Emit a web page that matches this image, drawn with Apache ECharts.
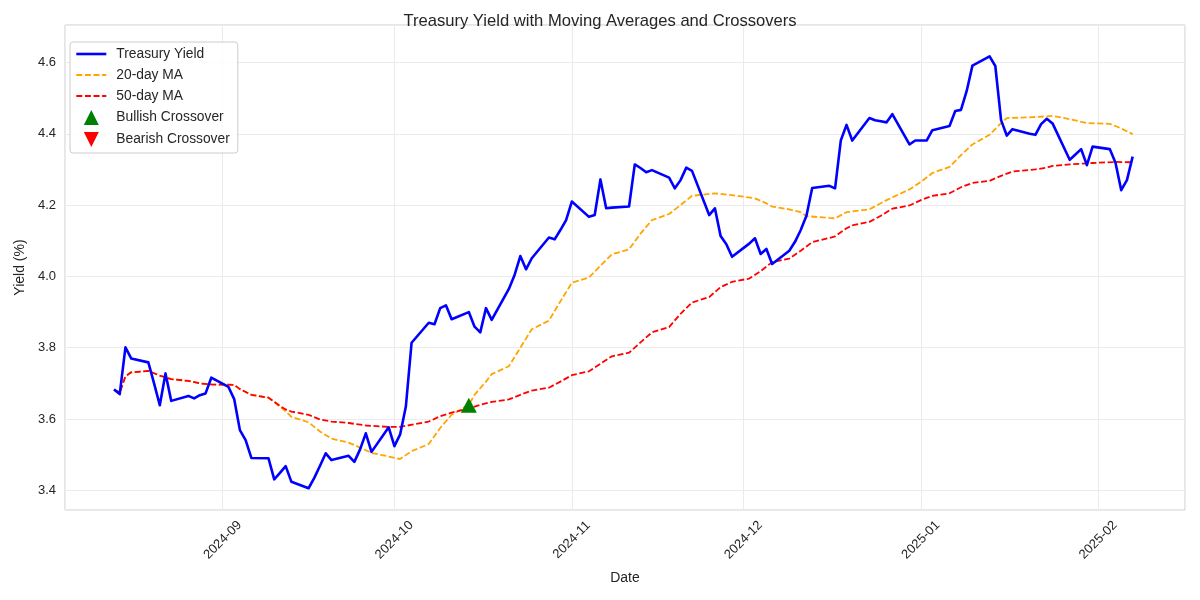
<!DOCTYPE html>
<html>
<head>
<meta charset="utf-8">
<script src="https://cdn.jsdelivr.net/npm/echarts@6/dist/echarts.min.js"></script>
<style>html,body{margin:0;padding:0;background:#fff}#chart{width:1200px;height:600px}</style>
</head>
<body>
<div id="chart"></div>
<script>
// ---------- data ----------
const yieldDates = [
"2024-08-13","2024-08-14","2024-08-15","2024-08-16","2024-08-19","2024-08-20","2024-08-21","2024-08-22","2024-08-23","2024-08-26","2024-08-27","2024-08-28","2024-08-29","2024-08-30",
"2024-09-02","2024-09-03","2024-09-04","2024-09-05","2024-09-06","2024-09-09","2024-09-10","2024-09-11","2024-09-12","2024-09-13","2024-09-16","2024-09-17","2024-09-18","2024-09-19","2024-09-20","2024-09-23","2024-09-24","2024-09-25","2024-09-26","2024-09-27","2024-09-30",
"2024-10-01","2024-10-02","2024-10-03","2024-10-04","2024-10-07","2024-10-08","2024-10-09","2024-10-10","2024-10-11","2024-10-14","2024-10-15","2024-10-16","2024-10-17","2024-10-18","2024-10-21","2024-10-22","2024-10-23","2024-10-24","2024-10-25","2024-10-28","2024-10-29","2024-10-30","2024-10-31",
"2024-11-01","2024-11-04","2024-11-05","2024-11-06","2024-11-07","2024-11-08","2024-11-11","2024-11-12","2024-11-13","2024-11-14","2024-11-15","2024-11-18","2024-11-19","2024-11-20","2024-11-21","2024-11-22","2024-11-25","2024-11-26","2024-11-27","2024-11-28","2024-11-29",
"2024-12-02","2024-12-03","2024-12-04","2024-12-05","2024-12-06","2024-12-09","2024-12-10","2024-12-11","2024-12-12","2024-12-13","2024-12-16","2024-12-17","2024-12-18","2024-12-19","2024-12-20","2024-12-23","2024-12-24","2024-12-25","2024-12-26","2024-12-27","2024-12-30","2024-12-31",
"2025-01-01","2025-01-02","2025-01-03","2025-01-06","2025-01-07","2025-01-08","2025-01-09","2025-01-10","2025-01-13","2025-01-14","2025-01-15","2025-01-16","2025-01-17","2025-01-20","2025-01-21","2025-01-22","2025-01-23","2025-01-24","2025-01-27","2025-01-28","2025-01-29","2025-01-30","2025-01-31",
"2025-02-03","2025-02-04","2025-02-05","2025-02-06","2025-02-07"
];
const yieldValues = [
3.683,3.670,3.801,3.770,3.759,3.700,3.639,3.728,3.651,3.665,3.658,3.667,3.672,3.716,
3.690,3.656,3.569,3.541,3.491,3.490,3.431,3.449,3.468,3.424,3.406,3.435,3.469,3.504,3.485,3.497,3.480,3.515,3.560,3.508,3.577,
3.524,3.557,3.635,3.814,3.870,3.866,3.911,3.919,3.880,3.900,3.859,3.843,3.911,3.878,3.965,4.004,4.057,4.020,4.051,4.109,4.104,4.130,4.158,
4.210,4.167,4.172,4.272,4.191,4.193,4.196,4.314,4.304,4.292,4.298,4.277,4.247,4.270,4.305,4.296,4.172,4.191,4.113,4.090,4.055,
4.092,4.107,4.063,4.077,4.035,4.072,4.097,4.130,4.170,4.248,4.254,4.247,4.381,4.425,4.381,4.444,4.438,4.435,4.432,4.455,4.370,4.381,
4.381,4.381,4.410,4.422,4.464,4.467,4.520,4.591,4.617,4.590,4.439,4.395,4.413,4.400,4.397,4.427,4.442,4.429,4.327,4.342,4.357,4.312,4.364,
4.357,4.319,4.242,4.270,4.336
];

const ma20Dates = [
"2024-08-13","2024-08-14","2024-08-15","2024-08-16","2024-08-19","2024-08-21","2024-08-23","2024-08-26","2024-08-28","2024-08-30",
"2024-09-03","2024-09-04","2024-09-06","2024-09-09","2024-09-11","2024-09-12","2024-09-13","2024-09-16","2024-09-18","2024-09-20","2024-09-23","2024-09-25","2024-09-27","2024-09-30",
"2024-10-02","2024-10-04","2024-10-07","2024-10-09","2024-10-11","2024-10-14","2024-10-15","2024-10-17","2024-10-18","2024-10-21","2024-10-23","2024-10-25","2024-10-28","2024-10-30",
"2024-11-01","2024-11-04","2024-11-06","2024-11-08","2024-11-11","2024-11-13","2024-11-15","2024-11-18","2024-11-20","2024-11-22","2024-11-26","2024-11-29",
"2024-12-03","2024-12-05","2024-12-06","2024-12-09","2024-12-11","2024-12-12","2024-12-16","2024-12-17","2024-12-19","2024-12-23","2024-12-26","2024-12-30",
"2025-01-01","2025-01-03","2025-01-06","2025-01-08","2025-01-10","2025-01-13","2025-01-15","2025-01-16","2025-01-20","2025-01-24","2025-01-27","2025-01-30",
"2025-02-03","2025-02-05","2025-02-07"
];
const ma20Values = [
3.683,3.674,3.720,3.731,3.735,3.722,3.712,3.707,3.700,3.697,
3.696,3.684,3.668,3.660,3.635,3.622,3.606,3.591,3.565,3.545,3.534,3.520,3.505,3.495,
3.488,3.510,3.530,3.575,3.612,3.640,3.668,3.705,3.726,3.748,3.800,3.852,3.876,3.930,
3.982,3.997,4.030,4.062,4.076,4.120,4.158,4.175,4.200,4.226,4.233,4.228,
4.219,4.205,4.196,4.188,4.180,4.169,4.164,4.163,4.180,4.188,4.214,4.244,
4.265,4.290,4.307,4.340,4.370,4.397,4.430,4.444,4.446,4.450,4.441,4.430,
4.428,4.415,4.399
];

const ma50Dates = [
"2024-08-13","2024-08-14","2024-08-15","2024-08-16","2024-08-19","2024-08-21","2024-08-23","2024-08-26","2024-08-28","2024-08-30",
"2024-09-03","2024-09-04","2024-09-06","2024-09-09","2024-09-11","2024-09-12","2024-09-13","2024-09-16","2024-09-18","2024-09-20","2024-09-23","2024-09-26","2024-09-30",
"2024-10-02","2024-10-07","2024-10-09","2024-10-11","2024-10-14","2024-10-16","2024-10-18","2024-10-21","2024-10-23","2024-10-25","2024-10-28","2024-10-30",
"2024-11-01","2024-11-04","2024-11-06","2024-11-08","2024-11-11","2024-11-13","2024-11-15","2024-11-18","2024-11-20","2024-11-22","2024-11-25","2024-11-27","2024-11-29",
"2024-12-02","2024-12-04","2024-12-06","2024-12-09","2024-12-11","2024-12-13","2024-12-17","2024-12-19","2024-12-20","2024-12-23","2024-12-25","2024-12-27","2024-12-30",
"2025-01-01","2025-01-03","2025-01-06","2025-01-08","2025-01-10","2025-01-13","2025-01-15","2025-01-17","2025-01-21","2025-01-23","2025-01-24","2025-01-27","2025-01-31",
"2025-02-04","2025-02-07"
];
const ma50Values = [
3.683,3.674,3.720,3.731,3.735,3.722,3.712,3.707,3.700,3.697,
3.696,3.684,3.668,3.660,3.637,3.627,3.621,3.612,3.599,3.593,3.589,3.582,3.578,
3.578,3.593,3.608,3.618,3.630,3.640,3.648,3.655,3.668,3.680,3.688,3.705,
3.723,3.734,3.755,3.776,3.786,3.815,3.843,3.858,3.895,3.927,3.942,3.970,3.985,
3.994,4.015,4.040,4.050,4.072,4.096,4.112,4.135,4.143,4.153,4.170,4.190,4.199,
4.214,4.226,4.233,4.250,4.262,4.268,4.282,4.294,4.300,4.305,4.310,4.314,4.318,
4.321,4.320
];

const bullishDates = ["2024-10-14"];
const bullishValues = [3.639];
const bearishDates = [];
const bearishValues = [];

const seriesNames = ["Treasury Yield", "20-day MA", "50-day MA", "Bullish Crossover", "Bearish Crossover"];
const titleText = "Treasury Yield with Moving Averages and Crossovers";
const xAxisTitle = "Date";
const yAxisTitle = "Yield (%)";

// ---------- build ----------
const pair = (ds, vs) => ds.map((d, i) => [d, vs[i]]);
const FONT = "'Liberation Sans', Arial, sans-serif";
const TXT = '#262626';
const pad2 = n => (n < 10 ? '0' : '') + n;
const UP_TRI = 'path://M5,0 L10,10 L0,10 Z';
const DOWN_TRI = 'path://M0,0 L10,0 L5,10 Z';

const chart = echarts.init(document.getElementById('chart'), null, {renderer: 'canvas'});
chart.setOption({
  animation: false,
  backgroundColor: '#ffffff',
  textStyle: {fontFamily: FONT},
  title: {
    text: titleText, left: 'center', top: 8,
    textStyle: {fontFamily: FONT, fontSize: 16.6, fontWeight: 'normal', color: TXT}
  },
  grid: {left: 65, right: 15, top: 25, bottom: 90, show: true, borderColor: '#cccccc', borderWidth: 1, backgroundColor: '#ffffff'},
  legend: {
    orient: 'vertical', left: 70, top: 42,
    data: [
      {name: seriesNames[0], itemStyle: {opacity: 0}, lineStyle: {width: 2.6}},
      {name: seriesNames[1], itemStyle: {opacity: 0}, lineStyle: {width: 1.8}},
      {name: seriesNames[2], itemStyle: {opacity: 0}, lineStyle: {width: 1.8}},
      {name: seriesNames[3], icon: UP_TRI},
      {name: seriesNames[4], icon: DOWN_TRI}
    ],
    symbolKeepAspect: true,
    itemWidth: 30, itemHeight: 15, itemGap: 7,
    padding: [5, 8, 6, 5],
    backgroundColor: 'rgba(255,255,255,0.85)', borderColor: '#cccccc', borderWidth: 1, borderRadius: 3,
    textStyle: {fontFamily: FONT, fontSize: 13.8, color: TXT, padding: [0, 0, 0, 5]}
  },
  xAxis: {
    type: 'time',
    min: new Date(2024, 7, 4, 10, 30).getTime(),
    max: new Date(2025, 1, 16, 3, 30).getTime(),
    minInterval: 35 * 86400000, maxInterval: 50 * 86400000,
    name: xAxisTitle, nameLocation: 'middle', nameGap: 61,
    nameTextStyle: {fontFamily: FONT, fontSize: 14, color: TXT},
    axisLine: {show: false}, axisTick: {show: false},
    splitLine: {show: true, lineStyle: {color: '#ebebeb', width: 1}},
    axisLabel: {
      rotate: 45, margin: 30, align: 'center', verticalAlign: 'middle',
      fontFamily: FONT, fontSize: 13, color: TXT,
      showMinLabel: false, showMaxLabel: false, hideOverlap: false,
      formatter: function (v) {
        const d = new Date(v);
        if (d.getDate() !== 1 || d.getHours() !== 0) return '';
        return d.getFullYear() + '-' + pad2(d.getMonth() + 1);
      }
    }
  },
  yAxis: {
    type: 'value', min: 3.345, max: 4.705, splitNumber: 7,
    name: yAxisTitle, nameLocation: 'middle', nameGap: 36, nameRotate: 90,
    nameTextStyle: {fontFamily: FONT, fontSize: 14, color: TXT},
    axisLine: {show: false}, axisTick: {show: false},
    splitLine: {show: true, lineStyle: {color: '#ebebeb', width: 1}},
    axisLabel: {
      fontFamily: FONT, fontSize: 13, color: TXT, margin: 9,
      showMinLabel: false, showMaxLabel: false,
      formatter: v => v.toFixed(1)
    }
  },
  series: [
    {
      name: seriesNames[0], type: 'line', data: pair(yieldDates, yieldValues),
      showSymbol: false, symbol: 'none', z: 3,
      lineStyle: {color: '#0000ff', width: 2.6, join: 'round'}, itemStyle: {color: '#0000ff'}
    },
    {
      name: seriesNames[1], type: 'line', data: pair(ma20Dates, ma20Values),
      showSymbol: false, symbol: 'none', z: 2,
      lineStyle: {color: '#ffa500', width: 1.8, type: [6, 2.6]}, itemStyle: {color: '#ffa500'}
    },
    {
      name: seriesNames[2], type: 'line', data: pair(ma50Dates, ma50Values),
      showSymbol: false, symbol: 'none', z: 2,
      lineStyle: {color: '#ff0000', width: 1.8, type: [6, 2.6]}, itemStyle: {color: '#ff0000'}
    },
    {
      name: seriesNames[3], type: 'scatter', data: pair(bullishDates, bullishValues),
      symbol: UP_TRI, symbolSize: [16, 15], symbolKeepAspect: false, z: 5,
      itemStyle: {color: '#008000', opacity: 1}
    },
    {
      name: seriesNames[4], type: 'scatter', data: pair(bearishDates, bearishValues),
      symbol: DOWN_TRI, symbolSize: [16, 15], z: 5,
      itemStyle: {color: '#ff0000', opacity: 1}
    }
  ]
});
</script>
</body>
</html>
